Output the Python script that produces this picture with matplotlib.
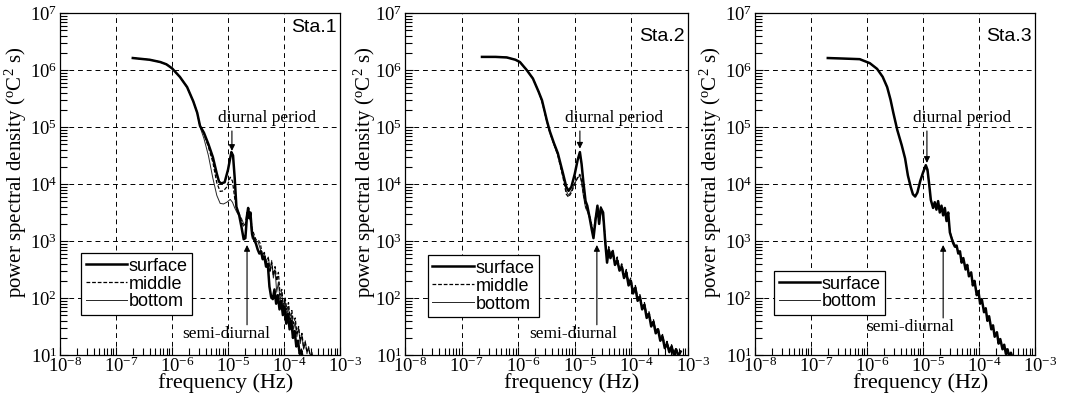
import numpy as np
import matplotlib
matplotlib.use("Agg")
import matplotlib.pyplot as plt
from matplotlib.ticker import LogLocator, LogFormatterMathtext, NullFormatter
from matplotlib.transforms import ScaledTranslation

plt.rcParams['font.family'] = ['Liberation Serif', 'DejaVu Serif']
plt.rcParams['mathtext.fontset'] = 'custom'
plt.rcParams['mathtext.rm'] = 'Liberation Serif'
plt.rcParams['mathtext.it'] = 'Liberation Serif:italic'

# --- spectra, stored as log10 values ---
# Sta.1
s1_lf = [-6.70, -6.40, -6.21, -6.10, -6.00, -5.86, -5.73, -5.62, -5.55, -5.50, -5.43, -5.35, -5.27, -5.20, -5.16,
         -5.12, -5.06, -5.00, -4.94, -4.91, -4.88, -4.85, -4.80, -4.76, -4.72, -4.69, -4.66, -4.64, -4.62, -4.60,
         -4.57, -4.53, -4.50, -4.47, -4.44, -4.41, -4.38, -4.35, -4.32, -4.29, -4.26, -4.23, -4.20, -4.17, -4.14,
         -4.11, -4.08, -4.05, -4.02, -3.99, -3.96, -3.93, -3.90, -3.87, -3.84, -3.81, -3.78, -3.75, -3.72, -3.69, -3.66]
s1_lp = [6.21, 6.18, 6.14, 6.10, 6.03, 5.88, 5.70, 5.45, 5.25, 5.02, 4.90, 4.70, 4.47, 4.18, 4.04,
         4.01, 4.03, 4.25, 4.56, 4.50, 4.10, 3.60, 3.45, 3.25, 3.03, 3.05, 3.45, 3.58, 3.40, 3.50,
         3.12, 3.02, 2.95, 2.85, 2.78, 2.82, 2.68, 2.72, 2.55, 2.60, 2.20, 2.02, 1.98, 2.15, 1.90,
         2.05, 1.80, 1.95, 1.70, 1.85, 1.55, 1.72, 1.45, 1.60, 1.30, 1.42, 1.15, 1.25, 1.02, 1.08, 0.90]
m1_lf = [-6.70, -6.40, -6.21, -6.10, -6.00, -5.86, -5.73, -5.62, -5.55, -5.50, -5.43, -5.35, -5.27, -5.20, -5.14,
         -5.08, -5.02, -4.96, -4.92, -4.88, -4.84, -4.80, -4.76, -4.72, -4.69, -4.66, -4.63, -4.60, -4.57, -4.53,
         -4.50, -4.46, -4.42, -4.39, -4.35, -4.32, -4.28, -4.25, -4.22, -4.19, -4.16, -4.13, -4.10, -4.07, -4.04,
         -4.01, -3.98, -3.95, -3.92, -3.89, -3.86, -3.83, -3.80, -3.77, -3.74, -3.71, -3.68, -3.65, -3.62, -3.59,
         -3.56, -3.53, -3.50]
m1_lp = [6.21, 6.18, 6.14, 6.10, 6.03, 5.88, 5.70, 5.45, 5.25, 5.02, 4.88, 4.65, 4.38, 4.02, 3.87,
         3.88, 3.95, 4.12, 4.05, 3.75, 3.55, 3.48, 3.35, 3.25, 3.30, 3.50, 3.40, 3.45, 3.22, 3.10,
         3.02, 3.02, 2.95, 2.75, 2.80, 2.62, 2.70, 2.45, 2.62, 2.40, 2.55, 2.30, 2.45, 2.05, 2.15,
         1.85, 2.00, 1.80, 1.92, 1.62, 1.78, 1.55, 1.65, 1.38, 1.50, 1.25, 1.38, 1.12, 1.22, 1.05,
         1.12, 0.98, 1.02]
b1_lf = m1_lf + [-3.47]
b1_lp = [6.21, 6.18, 6.14, 6.10, 6.03, 5.88, 5.70, 5.45, 5.25, 5.00, 4.80, 4.50, 4.10, 3.80, 3.66,
         3.65, 3.68, 3.73, 3.68, 3.58, 3.50, 3.44, 3.40, 3.30, 3.28, 3.45, 3.52, 3.35, 3.05, 3.00,
         3.00, 2.98, 2.85, 2.70, 2.78, 2.65, 2.72, 2.50, 2.66, 2.35, 2.50, 2.10, 2.28, 1.95, 2.10,
         1.78, 1.95, 1.70, 1.85, 1.55, 1.70, 1.45, 1.58, 1.32, 1.48, 1.20, 1.35, 1.10, 1.25, 1.02,
         1.15, 0.98, 1.05, 0.92]

# Sta.2
s2_lf = [-6.64, -6.40, -6.20, -6.05, -5.97, -5.85, -5.74, -5.64, -5.58, -5.49, -5.44, -5.37, -5.30, -5.21, -5.15,
         -5.11, -5.06, -5.00, -4.95, -4.91, -4.88, -4.85, -4.81, -4.78, -4.74, -4.70, -4.67, -4.63, -4.60, -4.57,
         -4.54, -4.50, -4.46, -4.43, -4.40, -4.37, -4.33, -4.29, -4.25, -4.21, -4.17, -4.13, -4.09, -4.05, -4.01,
         -3.97, -3.93, -3.89, -3.85, -3.81, -3.77, -3.73, -3.69, -3.65, -3.61, -3.57, -3.53, -3.49, -3.45, -3.41,
         -3.37, -3.33, -3.29, -3.25, -3.21, -3.17, -3.13]
s2_lp = [6.23, 6.23, 6.22, 6.18, 6.14, 6.00, 5.85, 5.62, 5.47, 5.10, 4.92, 4.72, 4.54, 4.19, 3.95,
         3.88, 3.95, 4.18, 4.42, 4.56, 4.35, 4.05, 3.70, 3.62, 3.42, 3.20, 3.05, 3.40, 3.62, 3.30,
         3.58, 3.50, 2.95, 2.62, 2.85, 2.70, 2.82, 2.58, 2.66, 2.48, 2.55, 2.35, 2.45, 2.22, 2.30,
         2.08, 2.18, 1.95, 2.02, 1.80, 1.88, 1.65, 1.72, 1.50, 1.58, 1.38, 1.45, 1.25, 1.32, 1.12,
         1.20, 1.05, 1.15, 1.00, 1.10, 0.98, 1.06]
m2_lf = s2_lf
m2_lp = [6.23, 6.23, 6.22, 6.18, 6.14, 6.00, 5.85, 5.62, 5.45, 5.08, 4.90, 4.70, 4.50, 4.12, 3.82,
         3.77, 3.85, 4.00, 4.12, 4.17, 4.05, 3.85, 3.62, 3.55, 3.45, 3.28, 3.15, 3.45, 3.55, 3.38,
         3.60, 3.42, 3.05, 2.75, 2.90, 2.75, 2.85, 2.62, 2.72, 2.52, 2.60, 2.40, 2.50, 2.28, 2.35,
         2.12, 2.22, 2.00, 2.06, 1.85, 1.92, 1.70, 1.76, 1.55, 1.62, 1.42, 1.48, 1.30, 1.36, 1.16,
         1.24, 1.08, 1.18, 1.03, 1.12, 1.00, 1.08]
b2_lf = s2_lf
b2_lp = [6.23, 6.23, 6.22, 6.18, 6.14, 6.00, 5.85, 5.62, 5.45, 5.08, 4.90, 4.70, 4.52, 4.15, 3.88,
         3.80, 3.88, 4.02, 4.10, 4.15, 4.02, 3.80, 3.58, 3.52, 3.40, 3.25, 3.12, 3.40, 3.50, 3.35,
         3.55, 3.40, 3.00, 2.70, 2.86, 2.72, 2.80, 2.60, 2.70, 2.50, 2.58, 2.38, 2.48, 2.25, 2.32,
         2.10, 2.20, 1.98, 2.04, 1.83, 1.90, 1.68, 1.74, 1.53, 1.60, 1.40, 1.46, 1.28, 1.34, 1.14,
         1.22, 1.06, 1.16, 1.02, 1.10, 0.99, 1.07]

# Sta.3
s3_lf = [-6.70, -6.40, -6.13, -5.95, -5.82, -5.72, -5.64, -5.58, -5.53, -5.46, -5.38, -5.32, -5.27, -5.22, -5.18,
         -5.14, -5.10, -5.05, -5.00, -4.95, -4.92, -4.89, -4.86, -4.82, -4.79, -4.76, -4.73, -4.70, -4.67, -4.64,
         -4.61, -4.58, -4.55, -4.52, -4.49, -4.46, -4.43, -4.40, -4.37, -4.34, -4.31, -4.28, -4.24, -4.21, -4.18,
         -4.14, -4.11, -4.08, -4.04, -4.01, -3.98, -3.95, -3.91, -3.88, -3.85, -3.82, -3.78, -3.75, -3.72, -3.68,
         -3.65, -3.62, -3.58, -3.55, -3.52, -3.49, -3.46, -3.43, -3.40]
s3_lp = [6.21, 6.20, 6.19, 6.12, 6.02, 5.88, 5.70, 5.48, 5.25, 4.95, 4.68, 4.45, 4.15, 3.95, 3.82,
         3.78, 3.85, 4.05, 4.20, 4.33, 4.25, 4.00, 3.72, 3.58, 3.68, 3.55, 3.70, 3.50, 3.62, 3.45,
         3.58, 3.35, 3.50, 3.15, 3.05, 2.96, 2.90, 2.92, 2.78, 2.82, 2.62, 2.70, 2.50, 2.58, 2.38,
         2.45, 2.22, 2.30, 2.05, 2.12, 1.90, 1.98, 1.75, 1.82, 1.60, 1.68, 1.45, 1.52, 1.32, 1.40,
         1.20, 1.28, 1.10, 1.18, 1.02, 1.10, 0.96, 1.04, 0.95]
b3_lf = s3_lf
b3_lp = [6.21, 6.20, 6.19, 6.12, 6.02, 5.88, 5.70, 5.48, 5.25, 4.95, 4.68, 4.45, 4.15, 3.95, 3.82,
         3.78, 3.85, 4.05, 4.18, 4.30, 4.22, 3.98, 3.70, 3.62, 3.66, 3.58, 3.66, 3.54, 3.58, 3.48,
         3.55, 3.38, 3.45, 3.18, 3.08, 3.00, 2.94, 2.88, 2.82, 2.78, 2.66, 2.68, 2.54, 2.55, 2.42,
         2.42, 2.26, 2.28, 2.10, 2.10, 1.94, 1.95, 1.78, 1.80, 1.64, 1.65, 1.48, 1.50, 1.35, 1.38,
         1.24, 1.26, 1.13, 1.16, 1.05, 1.08, 0.99, 1.02, 0.96]

stations = ['Sta.1', 'Sta.2', 'Sta.3']
series_names = ['surface', 'middle', 'bottom']

fig = plt.figure(figsize=(10.72, 4.09), dpi=100)
W, H = 1072.0, 409.0


def make_axes(left_px, right_px):
    return fig.add_axes([left_px / W, (H - 355) / H, (right_px - left_px) / W, 342 / H])


def style_axes(ax, ylab_x):
    ax.set_xscale('log')
    ax.set_yscale('log')
    ax.set_xlim(1e-8, 1e-3)
    ax.set_ylim(1e1, 1e7)
    ax.xaxis.set_major_locator(LogLocator(base=10, numticks=10))
    ax.yaxis.set_major_locator(LogLocator(base=10, numticks=10))
    ax.xaxis.set_minor_locator(LogLocator(base=10, subs=np.arange(2, 10), numticks=20))
    ax.yaxis.set_minor_locator(LogLocator(base=10, subs=np.arange(2, 10), numticks=20))
    ax.xaxis.set_major_formatter(LogFormatterMathtext())
    ax.yaxis.set_major_formatter(LogFormatterMathtext())
    ax.xaxis.set_minor_formatter(NullFormatter())
    ax.yaxis.set_minor_formatter(NullFormatter())
    ax.tick_params(which='both', direction='in', top=False, right=False, labelsize=13.5, width=0.8)
    ax.tick_params(which='major', length=6)
    ax.tick_params(which='minor', length=5)
    ax.tick_params(axis='x', pad=1)
    ax.tick_params(axis='y', pad=2)
    ax.grid(True, which='major', color='k', linestyle=(0, (5, 4)), linewidth=0.7)
    for sp in ax.spines.values():
        sp.set_linewidth(0.9)
    ax.set_xlabel('frequency (Hz)', fontsize=16, va='center')
    ax.xaxis.set_label_coords(0.59, -0.083)
    ax.set_ylabel(r'power spectral density ($^{\rm o}$C$^{\rm 2}$ s)', fontsize=15, va='center')
    ax.yaxis.set_label_coords(ylab_x, 0.535)
    fig.canvas.draw()
    off = ScaledTranslation(5 / 100.0, 0, fig.dpi_scale_trans)
    for lbl in ax.get_xticklabels():
        lbl.set_transform(lbl.get_transform() + off)


def draw(ax, curves, station, leg_anchor, diurnal, semi):
    styles = {'surface': dict(color='k', lw=1.8, ls='-'),
              'middle': dict(color='k', lw=0.9, ls=(0, (3, 1.5))),
              'bottom': dict(color='0.15', lw=0.7, ls='-')}
    order = [n for n in series_names if n in curves]
    for name in reversed(order):
        lf, lp = curves[name]
        ax.plot(10 ** np.array(lf), 10 ** np.array(lp), label=name, zorder=3 if name == 'surface' else 2,
                **styles[name])
    handles, labels = ax.get_legend_handles_labels()
    handles, labels = handles[::-1], labels[::-1]
    leg = ax.legend(handles, labels, loc='lower left', bbox_to_anchor=leg_anchor, frameon=True, fancybox=False,
                    framealpha=1, edgecolor='k', prop={'family': 'Liberation Sans', 'size': 13},
                    handlelength=2.3, handletextpad=0.1, labelspacing=0.05, borderpad=0.25, borderaxespad=0)
    leg.get_frame().set_linewidth(0.9)
    leg.set_zorder(5)
    ax.text(0.99, station[1], station[0], transform=ax.transAxes, ha='right', va='center',
            family='Liberation Sans', fontsize=14)
    arrow = dict(arrowstyle='-|>', color='k', lw=0.8, mutation_scale=9, shrinkA=0, shrinkB=0)
    ax.annotate('', xy=(10 ** diurnal[0], 10 ** diurnal[1]), xytext=(10 ** diurnal[0], 10 ** 4.93), arrowprops=arrow)
    ax.text(10 ** -4.30, 10 ** 5.02, 'diurnal period', ha='center', va='bottom', fontsize=12.5)
    ax.annotate('', xy=(10 ** semi[0], 10 ** 2.93), xytext=(10 ** semi[0], 10 ** semi[1]), arrowprops=arrow)
    ax.text(10 ** semi[2], 10 ** (semi[1] - 0.02), 'semi-diurnal', ha='center', va='top', fontsize=12.5)


ax1 = make_axes(60, 340)
style_axes(ax1, -0.157)
draw(ax1, {'surface': (s1_lf, s1_lp), 'middle': (m1_lf, m1_lp), 'bottom': (b1_lf, b1_lp)},
     (stations[0], 0.957), (0.075, 0.117), (-4.93, 4.58), (-4.66, 1.53, -5.04))

ax2 = make_axes(405, 688)
style_axes(ax2, -0.143)
draw(ax2, {'surface': (s2_lf, s2_lp), 'middle': (m2_lf, m2_lp), 'bottom': (b2_lf, b2_lp)},
     (stations[1], 0.93), (0.081, 0.111), (-4.91, 4.62), (-4.61, 1.53, -5.03))

ax3 = make_axes(755, 1035)
style_axes(ax3, -0.157)
draw(ax3, {'surface': (s3_lf, s3_lp), 'bottom': (b3_lf, b3_lp)},
     (stations[2], 0.93), (0.068, 0.117), (-4.93, 4.37), (-4.64, 1.65, -5.23))

fig.savefig('out.png', dpi=100)
